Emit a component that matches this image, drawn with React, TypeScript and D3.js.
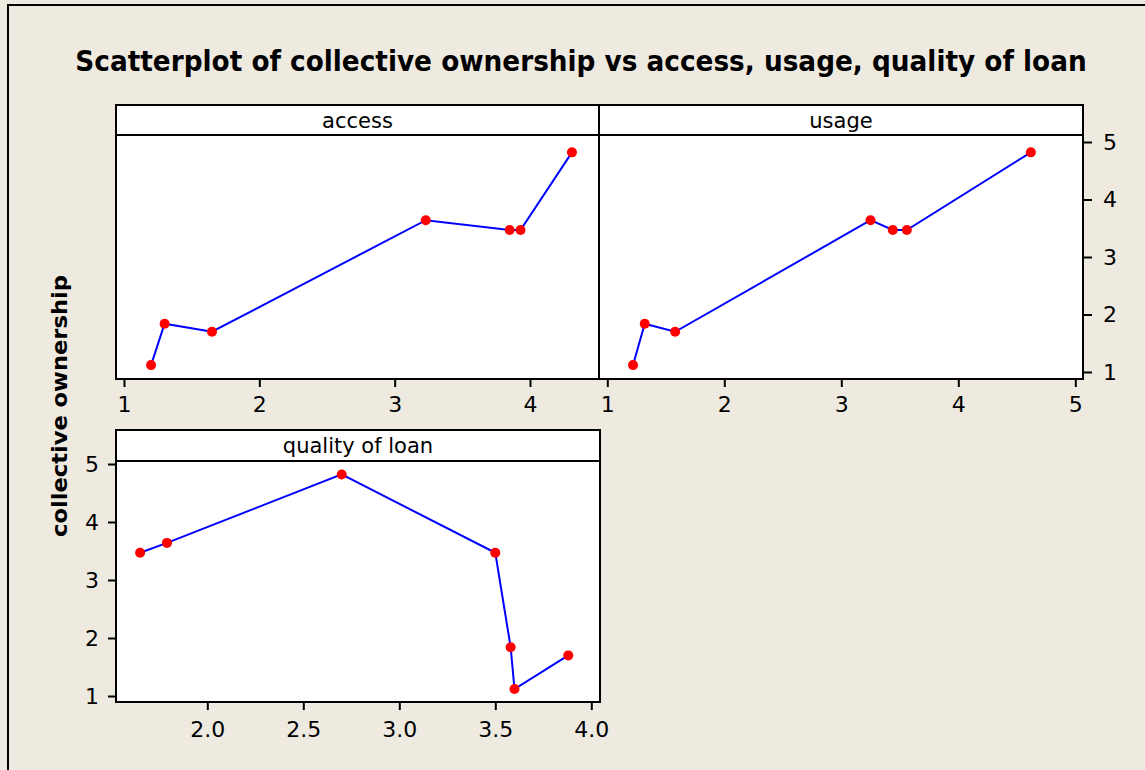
import { useEffect, useRef } from "react";
import * as d3 from "d3";

// collective ownership (y) paired with each predictor
const collective = [1.12, 1.84, 1.70, 3.64, 3.47, 3.47, 4.82];
const access = [1.2, 1.3, 1.65, 3.23, 3.85, 3.93, 4.31];
const usage = [1.22, 1.32, 1.58, 3.25, 3.44, 3.56, 4.62];
const quality = [3.6, 3.58, 3.88, 1.79, 1.65, 3.5, 2.7];

const accessTicks = [1, 2, 3, 4];
const usageTicks = [1, 2, 3, 4, 5];
const qualityTicks = [2.0, 2.5, 3.0, 3.5, 4.0];
const yTicks = [1, 2, 3, 4, 5];

const panelNames = ["access", "usage", "quality of loan"];

interface Pt {
  x: number;
  y: number;
}

const FONT = "DejaVu Sans, Verdana, sans-serif";

export default function App() {
  const ref = useRef<SVGSVGElement>(null);

  useEffect(() => {
    const svg = d3.select(ref.current);
    svg.selectAll("*").remove();

    svg.append("rect").attr("width", 1145).attr("height", 770).attr("fill", "#eeeae0");
    // outer frame (right/bottom run off the picture)
    svg
      .append("rect")
      .attr("x", 8)
      .attr("y", 5)
      .attr("width", 1300)
      .attr("height", 900)
      .attr("fill", "none")
      .attr("stroke", "#000")
      .attr("stroke-width", 2);

    // title: squeeze horizontally to the reference width with a scale
    const title = svg
      .append("g")
      .attr("transform", "translate(581,71)")
      .append("text")
      .attr("text-anchor", "middle")
      .attr("font-family", FONT)
      .attr("font-weight", "bold")
      .attr("font-size", 29)
      .text("Scatterplot of collective ownership vs access, usage, quality of loan");
    const tw = (title.node() as SVGTextElement).getComputedTextLength();
    title.attr("transform", `scale(${1012 / tw},1)`);

    const ylab = svg
      .append("g")
      .attr("transform", "translate(67,406) rotate(-90)")
      .append("text")
      .attr("text-anchor", "middle")
      .attr("font-family", FONT)
      .attr("font-weight", "bold")
      .attr("font-size", 22)
      .text("collective ownership");
    const yw = (ylab.node() as SVGTextElement).getComputedTextLength();
    ylab.attr("transform", `scale(${262 / yw},1)`);

    // scales
    const yTop = d3.scaleLinear().domain([1, 5]).range([372, 142]);
    const yBot = d3.scaleLinear().domain([1, 5]).range([696, 464]);
    const xAccess = d3.scaleLinear().domain([1, 4]).range([124, 530]);
    const xUsage = d3.scaleLinear().domain([1, 5]).range([607.3, 1075.3]);
    const xQuality = d3.scaleLinear().domain([2, 4]).range([207.3, 591.3]);

    const panels = [
      { name: panelNames[0], x0: 116, x1: 599, y0: 105, hb: 135, y1: 379, xs: xAccess, ys: yTop, xv: access, ticks: accessTicks, fmt: d3.format("d") },
      { name: panelNames[1], x0: 599, x1: 1083, y0: 105, hb: 135, y1: 379, xs: xUsage, ys: yTop, xv: usage, ticks: usageTicks, fmt: d3.format("d") },
      { name: panelNames[2], x0: 116, x1: 600, y0: 430, hb: 461, y1: 702, xs: xQuality, ys: yBot, xv: quality, ticks: qualityTicks, fmt: d3.format(".1f") },
    ];

    const styleAxis = (g: d3.Selection<SVGGElement, unknown, null, undefined>) => {
      g.select(".domain").remove();
      g.selectAll(".tick line").attr("stroke", "#000").attr("stroke-width", 2);
      g.selectAll(".tick text").attr("font-family", FONT).attr("font-size", 22).attr("fill", "#000");
    };

    panels.forEach(p => {
      const g = svg.append("g");
      g.append("rect")
        .attr("x", p.x0)
        .attr("y", p.y0)
        .attr("width", p.x1 - p.x0)
        .attr("height", p.y1 - p.y0)
        .attr("fill", "#fff")
        .attr("stroke", "#000")
        .attr("stroke-width", 2);
      g.append("line")
        .attr("x1", p.x0)
        .attr("x2", p.x1)
        .attr("y1", p.hb)
        .attr("y2", p.hb)
        .attr("stroke", "#000")
        .attr("stroke-width", 2);
      g.append("text")
        .attr("x", (p.x0 + p.x1) / 2)
        .attr("y", p.y0 + 23)
        .attr("text-anchor", "middle")
        .attr("font-family", FONT)
        .attr("font-size", 21)
        .text(p.name);

      const xAxis = g
        .append("g")
        .attr("transform", `translate(0,${p.y1})`)
        .call(d3.axisBottom(p.xs).tickValues(p.ticks).tickSize(8).tickPadding(p.y1 > 600 ? 11 : 9).tickFormat(p.fmt as any));
      styleAxis(xAxis);

      const pts: Pt[] = collective.map((c, i) => ({ x: p.xv[i], y: c })).sort((a, b) => a.x - b.x);
      const line = d3
        .line<Pt>()
        .x(d => p.xs(d.x))
        .y(d => p.ys(d.y));
      g.append("path")
        .attr("d", line(pts))
        .attr("fill", "none")
        .attr("stroke", "#0000ff")
        .attr("stroke-width", 2);
      g.selectAll("circle.pt")
        .data(pts)
        .enter()
        .append("circle")
        .attr("cx", d => p.xs(d.x))
        .attr("cy", d => p.ys(d.y))
        .attr("r", 5)
        .attr("fill", "#ff0000");
    });

    const rAxis = svg
      .append("g")
      .attr("transform", "translate(1083,0)")
      .call(d3.axisRight(yTop).tickValues(yTicks).tickSize(9).tickPadding(11).tickFormat(d3.format("d") as any));
    styleAxis(rAxis);

    const lAxis = svg
      .append("g")
      .attr("transform", "translate(116,0)")
      .call(d3.axisLeft(yBot).tickValues(yTicks).tickSize(8).tickPadding(9).tickFormat(d3.format("d") as any));
    styleAxis(lAxis);
  }, []);

  return (
    <svg
      ref={ref}
      width={1145}
      height={770}
      style={{ position: "absolute", left: 0, top: 0, display: "block" }}
    />
  );
}
